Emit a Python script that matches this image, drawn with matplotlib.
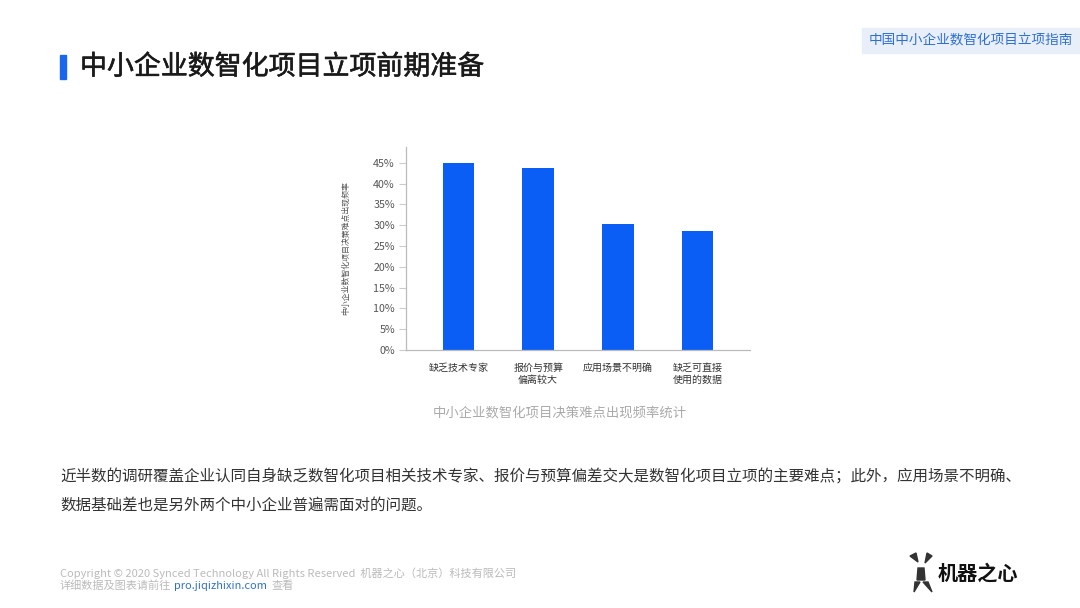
import matplotlib.pyplot as plt
import matplotlib.patheffects as pe
from matplotlib.patches import Rectangle, Polygon

plt.rcParams['font.family'] = ['Noto Sans CJK SC', 'DejaVu Sans']

categories = ['缺乏技术专家', '报价与预算\n偏离较大', '应用场景不明确', '缺乏可直接\n使用的数据']
values = [0.450, 0.437, 0.302, 0.286]
yticks = [0, 0.05, 0.10, 0.15, 0.20, 0.25, 0.30, 0.35, 0.40, 0.45]

W, H = 1080, 608
fig = plt.figure(figsize=(10.8, 6.08), dpi=100)


def fx(px):
    return px / W


def fy(py):
    return 1 - py / H


# header
fig.patches.append(Rectangle((fx(60), fy(79)), fx(6), 24 / H, transform=fig.transFigure,
                             color='#1a66f0', zorder=3))
fig.text(fx(80), fy(67), '中小企业数智化项目立项前期准备', fontsize=19.4, color='#1a1a1a',
         va='center', ha='left',
         path_effects=[pe.withStroke(linewidth=0.4, foreground='#1a1a1a')])
fig.patches.append(Rectangle((fx(862), fy(53)), fx(218), 25 / H, transform=fig.transFigure,
                             color='#e8eff9', zorder=1))
fig.text(fx(971), fy(40.5), '中国中小企业数智化项目立项指南', fontsize=9.8, color='#2e6fd4',
         va='center', ha='center')

# chart
ax = fig.add_axes([fx(406), fy(350), fx(750 - 406), (350 - 147) / H])
x = list(range(len(categories)))
ax.bar(x, values, width=0.4, color='#0a5df5', zorder=2)
ax.set_xlim(-0.66, 3.66)
ax.set_ylim(0, 0.488)
ax.set_yticks(yticks)
ax.set_yticklabels([f'{int(round(v * 100))}%' for v in yticks], fontsize=7.7, color='#555555')
ax.set_xticks(x)
ax.set_xticklabels(categories, fontsize=7.2, color='#333333', linespacing=1.25)
ax.tick_params(axis='x', length=0, pad=9)
ax.tick_params(axis='y', length=5, width=0.8, color='#cccccc', pad=3)
for s in ['top', 'right']:
    ax.spines[s].set_visible(False)
for s in ['left', 'bottom']:
    ax.spines[s].set_color('#bbbbbb')
    ax.spines[s].set_linewidth(0.9)
ax.set_ylabel('中小企业数智化项目决策难点出现频率', fontsize=5.7, color='#555555', labelpad=17)

fig.text(fx(560), fy(413), '中小企业数智化项目决策难点出现频率统计', fontsize=9.6, color='#aaaaaa',
         va='center', ha='center')

# body text
fig.text(fx(60), fy(477), '近半数的调研覆盖企业认同自身缺乏数智化项目相关技术专家、报价与预算偏差交大是数智化项目立项的主要难点；此外，应用场景不明确、',
         fontsize=11.2, color='#333333', va='center', ha='left')
fig.text(fx(60), fy(505), '数据基础差也是另外两个中小企业普遍需面对的问题。',
         fontsize=11.2, color='#333333', va='center', ha='left')

# footer
fig.text(fx(60), fy(573), 'Copyright © 2020 Synced Technology All Rights Reserved  机器之心（北京）科技有限公司',
         fontsize=8.0, color='#bbbbbb', va='center', ha='left')
fig.text(fx(60), fy(586), '详细数据及图表请前往', fontsize=8.0, color='#bbbbbb', va='center', ha='left')
fig.text(fx(174), fy(586), 'pro.jiqizhixin.com', fontsize=7.9, color='#2e6fd4', va='center', ha='left')
fig.text(fx(272), fy(586), '查看', fontsize=8.0, color='#bbbbbb', va='center', ha='left')

# logo
logo = [
    [(910, 556), (916, 553), (918, 562)],
    [(927, 553), (932, 556), (925, 563)],
    [(918, 568), (924, 568), (925, 580), (917, 580)],
    [(915, 582), (920, 582), (914, 592)],
    [(923, 582), (928, 582), (932, 592)],
]
for pts in logo:
    fig.patches.append(Polygon([(fx(a), fy(b)) for a, b in pts], closed=True,
                               transform=fig.transFigure, color='#333333'))
fig.text(fx(978), fy(573), '机器之心', fontsize=14.5, fontweight='bold', color='#111111',
         va='center', ha='center')

fig.savefig('out.png', dpi=100)
